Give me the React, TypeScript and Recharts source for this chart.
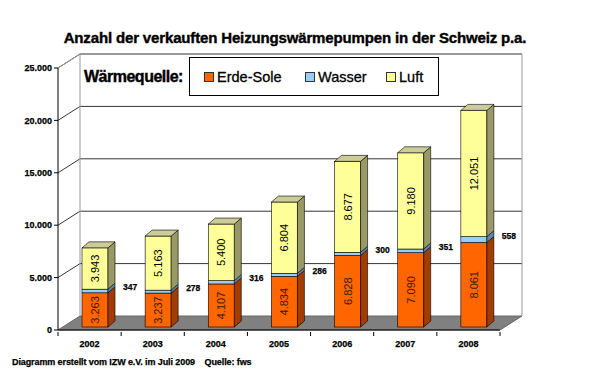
import { BarChart, Bar, XAxis, YAxis, CartesianGrid, Legend, LabelList, ReferenceArea } from "recharts"

const years = ["2002", "2003", "2004", "2005", "2006", "2007", "2008"]
const erdeSole = [3263, 3237, 4107, 4834, 6828, 7090, 8061]
const wasser = [347, 278, 316, 286, 300, 351, 558]
const luft = [3943, 5163, 5400, 6804, 8677, 9180, 12051]
const yTicks = [0, 5000, 10000, 15000, 20000, 25000]
const legendOrder = ["Erde-Sole", "Wasser", "Luft"]

const data = years.map((year, i) => ({
  year,
  erde: erdeSole[i],
  wasser: wasser[i],
  luft: luft[i],
}))

// depth of the 3d box (back wall) and of each bar
const DX = 22
const DY = 14
const BX = 7
const BY = 6
// bars sit a little behind the front edge
const SX = 5
const SY = 3

const FONT = "Liberation Sans, Arial, sans-serif"

const fmt = (v: number) => String(v).replace(/\B(?=(\d{3})+(?!\d))/g, ".")

const shade: Record<string, { side: string; top: string }> = {
  "#FF6600": { side: "#A33C00", top: "#CC5200" },
  "#99CCFF": { side: "#5E86AD", top: "#B8DAFF" },
  "#FFFF99": { side: "#999966", top: "#CCCC99" },
}

const makeBox = (withTop: boolean) => (props: any) => {
  const { x, y, width, height, fill } = props
  if (!height || height <= 0) return <g />
  const fx = x + SX
  const fy = y - SY
  const c = shade[fill]
  return (
    <g stroke="#000" strokeWidth={0.6}>
      <rect x={fx} y={fy} width={width} height={height} fill={fill} />
      <polygon
        points={`${fx + width},${fy} ${fx + width + BX},${fy - BY} ${fx + width + BX},${fy + height - BY} ${fx + width},${fy + height}`}
        fill={c.side}
      />
      {withTop && (
        <polygon
          points={`${fx},${fy} ${fx + BX},${fy - BY} ${fx + width + BX},${fy - BY} ${fx + width},${fy}`}
          fill={c.top}
        />
      )}
    </g>
  )
}

const gridLine = (p: any) => {
  const { x1, y1, x2, y2, index } = p
  return (
    <path
      key={`g-${index}-${y1}`}
      d={`M${x1},${y1} L${x1 + DX},${y1 - DY} L${x2 + DX},${y2 - DY}`}
      stroke={index === 0 ? "none" : "#000"}
      strokeWidth={0.8}
      fill="none"
    />
  )
}

const Walls = (props: any) => {
  const { x, y, width, height } = props
  const b = y + height
  return (
    <g>
      <polygon
        points={`${x},${b} ${x + width},${b} ${x + width + DX},${b - DY} ${x + DX},${b - DY}`}
        fill="#808080"
        stroke="#666"
      />
      <path
        d={`M${x},${y} L${x + DX},${y - DY} L${x + width + DX},${y - DY} L${x + width + DX},${b - DY}`}
        fill="none"
        stroke="#999"
      />
      <path d={`M${x + DX},${y - DY} L${x + DX},${b - DY}`} stroke="#999" />
    </g>
  )
}

const insideLabel = (color: string) => (props: any) => {
  const { x, y, width, height, value } = props
  const cx = x + SX + width / 2
  const cy = y - SY + height / 2
  return (
    <text
      x={cx}
      y={cy}
      transform={`rotate(-90 ${cx} ${cy})`}
      textAnchor="middle"
      dominantBaseline="central"
      fontFamily={FONT}
      fontSize={11}
      fill={color}
    >
      {fmt(value)}
    </text>
  )
}

const sideLabel = (props: any) => {
  const { x, y, width, height, value } = props
  return (
    <text
      x={x + SX + width + 15}
      y={y - SY + height / 2 - 4}
      dominantBaseline="central"
      fontFamily={FONT}
      fontWeight="bold"
      fontSize={8.5}
      fill="#000"
      stroke="#000"
      strokeWidth={0.25}
    >
      {fmt(value)}
    </text>
  )
}

const XTick = (props: any) => {
  const { x, y, payload, index } = props
  const off = payload.offset ?? 31.5
  return (
    <g>
      <line x1={x - off} y1={y - 6} x2={x - off} y2={y - 2} stroke="#000" />
      {index === years.length - 1 && <line x1={x + off} y1={y - 6} x2={x + off} y2={y - 2} stroke="#000" />}
      <text
        x={x}
        y={y + 9}
        textAnchor="middle"
        fontFamily={FONT}
        fontWeight="bold"
        fontSize={9}
        fill="#000"
        stroke="#000"
        strokeWidth={0.25}
      >
        {payload.value}
      </text>
    </g>
  )
}

const LegendBox = (props: any) => {
  const items = [...(props.payload || [])].sort(
    (a: any, b: any) => legendOrder.indexOf(a.value) - legendOrder.indexOf(b.value)
  )
  return (
    <div style={{ display: "flex", alignItems: "center", fontFamily: FONT }}>
      <div
        style={{
          fontWeight: "bold",
          fontSize: 16,
          width: 105,
          flexShrink: 0,
          letterSpacing: -0.5,
          WebkitTextStroke: "0.4px #000",
        }}
      >
        Wärmequelle:
      </div>
      <div
        style={{
          display: "flex",
          alignItems: "center",
          border: "1px solid #000",
          width: 250,
          height: 39,
          flexShrink: 0,
          boxSizing: "border-box",
          paddingLeft: 14,
          fontSize: 14.5,
          WebkitTextStroke: "0.3px #000",
        }}
      >
        {items.map((it: any, i: number) => (
          <div
            key={it.value}
            style={{ display: "flex", alignItems: "center", flexShrink: 0, width: i === 0 ? 101 : i === 1 ? 81 : 50 }}
          >
            <span
              style={{
                display: "inline-block",
                width: 8,
                height: 8,
                background: it.color,
                border: "1px solid #333",
                marginRight: 3,
              }}
            />
            <span>{it.value}</span>
          </div>
        ))}
      </div>
    </div>
  )
}

export default function App() {
  return (
    <div style={{ position: "fixed", left: 0, top: 0, width: 600, height: 374, background: "#fff" }}>
      <div
        style={{
          position: "absolute",
          top: 29,
          left: 0,
          width: 590,
          textAlign: "center",
          fontFamily: FONT,
          fontWeight: "bold",
          fontSize: 15,
          letterSpacing: -0.15,
          WebkitTextStroke: "0.4px #000",
        }}
      >
        Anzahl der verkauften Heizungswärmepumpen in der Schweiz p.a.
      </div>
      <div style={{ position: "absolute", top: 0, left: 0 }}>
        <BarChart
          width={600}
          height={374}
          data={data}
          margin={{ top: 68, right: 100, bottom: 14, left: 8 }}
          barSize={26}
        >
          <ReferenceArea y1={0} y2={25000} shape={<Walls />} ifOverflow="visible" />
          <CartesianGrid vertical={false} horizontal={gridLine} />
          <XAxis
            dataKey="year"
            tickLine={false}
            axisLine={{ stroke: "#000" }}
            tick={<XTick />}
            height={30}
            interval={0}
          />
          <YAxis
            ticks={yTicks}
            domain={[0, 25000]}
            width={50}
            tickFormatter={fmt}
            tickSize={4}
            tickLine={{ stroke: "#000" }}
            axisLine={{ stroke: "#000" }}
            tick={{
              fill: "#000",
              stroke: "#000",
              strokeWidth: 0.25,
              fontSize: 9,
              fontWeight: "bold",
              fontFamily: FONT,
            }}
          />
          <Legend
            layout="horizontal"
            verticalAlign="middle"
            align="center"
            content={<LegendBox />}
            wrapperStyle={{ position: "absolute", top: 57, left: 84, width: 360 }}
          />
          <Bar dataKey="erde" name="Erde-Sole" stackId="a" fill="#FF6600" shape={makeBox(false)} isAnimationActive={false}>
            <LabelList dataKey="erde" content={insideLabel("#3a1a00")} />
          </Bar>
          <Bar dataKey="wasser" name="Wasser" stackId="a" fill="#99CCFF" shape={makeBox(false)} isAnimationActive={false}>
            <LabelList dataKey="wasser" content={sideLabel} />
          </Bar>
          <Bar dataKey="luft" name="Luft" stackId="a" fill="#FFFF99" shape={makeBox(true)} isAnimationActive={false}>
            <LabelList dataKey="luft" content={insideLabel("#000")} />
          </Bar>
        </BarChart>
      </div>
      <div
        style={{
          position: "absolute",
          left: 12,
          top: 357,
          fontFamily: FONT,
          fontWeight: "bold",
          fontSize: 9,
          letterSpacing: -0.1,
          WebkitTextStroke: "0.25px #000",
        }}
      >
        Diagramm erstellt vom IZW e.V. im Juli 2009&nbsp;&nbsp;&nbsp; Quelle: fws
      </div>
    </div>
  )
}
